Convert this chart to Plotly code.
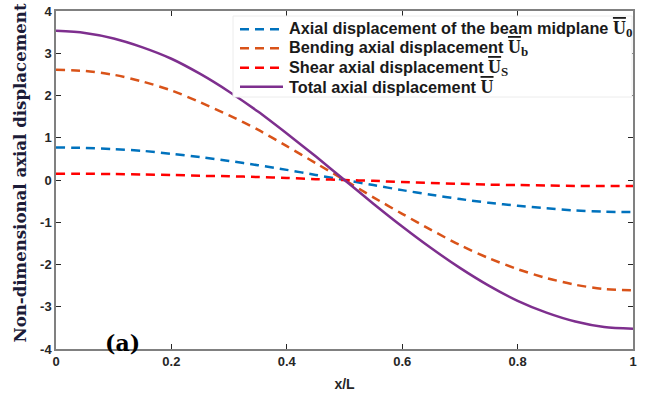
import plotly.graph_objects as go

x_vals = [0, 0.05, 0.1, 0.15, 0.2, 0.25, 0.3, 0.35, 0.4, 0.45, 0.5,
          0.55, 0.6, 0.65, 0.7, 0.75, 0.8, 0.85, 0.9, 0.95, 1.0]
u0_vals = [0.77, 0.76, 0.73, 0.69, 0.62, 0.54, 0.45, 0.35, 0.24, 0.12, 0.0,
           -0.12, -0.24, -0.35, -0.45, -0.54, -0.61, -0.67, -0.72, -0.75, -0.76]
ub_vals = [2.61, 2.58, 2.49, 2.33, 2.12, 1.84, 1.53, 1.19, 0.80, 0.40, 0.0,
           -0.41, -0.80, -1.18, -1.54, -1.85, -2.11, -2.32, -2.48, -2.58, -2.61]
us_vals = [0.15, 0.15, 0.14, 0.13, 0.12, 0.10, 0.09, 0.07, 0.05, 0.02, 0.0,
           -0.02, -0.05, -0.07, -0.09, -0.11, -0.12, -0.13, -0.14, -0.14, -0.14]
u_vals = [3.53, 3.48, 3.35, 3.14, 2.87, 2.51, 2.09, 1.62, 1.10, 0.56, 0.0,
          -0.56, -1.10, -1.61, -2.08, -2.50, -2.86, -3.14, -3.35, -3.48, -3.52]

x_ticks = [0, 0.2, 0.4, 0.6, 0.8, 1]
x_ticklabels = ["0", "0.2", "0.4", "0.6", "0.8", "1"]
y_ticks = [-4, -3, -2, -1, 0, 1, 2, 3, 4]
y_ticklabels = ["-4", "-3", "-2", "-1", "0", "1", "2", "3", "4"]

legend_texts = [
    "Axial displacement of the beam midplane",
    "Bending axial displacement",
    "Shear axial displacement",
    "Total axial displacement",
]
legend_subs = ["0", "b", "S", ""]
colors = ["#0072BD", "#D95319", "#FF0000", "#7E2F8E"]
dashes = ["9px,6px", "9px,6px", "9px,6px", "solid"]
series = [u0_vals, ub_vals, us_vals, u_vals]

fig = go.Figure()
for name, col, dsh, ys in zip(legend_texts, colors, dashes, series):
    fig.add_trace(go.Scatter(
        x=x_vals, y=ys, mode="lines", name=name, showlegend=False,
        line=dict(color=col, width=2.5, dash=dsh, shape="spline", smoothing=0.8),
    ))

axis_common = dict(
    showgrid=False, zeroline=False, showline=True, linecolor="#808080", linewidth=1.5,
    mirror="ticks", ticks="inside", ticklen=5, tickcolor="#262626", automargin=False,
    tickfont=dict(family="Liberation Sans", size=13, color="#262626", weight="bold"),
)
W, H = 647, 398
ML, MR, MT, MB = 56, 14, 11, 49
fig.update_layout(
    width=W, height=H,
    margin=dict(l=ML, r=MR, t=MT, b=MB),
    plot_bgcolor="white", paper_bgcolor="white",
    showlegend=False,
    xaxis=dict(range=[0, 1], tickvals=x_ticks, ticktext=x_ticklabels,
               title=dict(text="x/L", font=dict(family="Liberation Sans", size=14, color="#262626", weight="bold"), standoff=11),
               **axis_common),
    yaxis=dict(range=[-4, 4], tickvals=y_ticks, ticktext=y_ticklabels, **axis_common),
)

pw, ph = W - ML - MR, H - MT - MB
def px(xp):
    return (xp - ML) / pw
def py(yp):
    return 1 - (yp - MT) / ph

# y-axis title
fig.add_annotation(xref="paper", yref="paper", x=px(19.5), y=py(173), xanchor="center", yanchor="middle",
                   textangle=-90, showarrow=False, text="<b>Non-dimensional axial displacement</b>",
                   font=dict(family="DejaVu Serif", size=16.6, color="#1c1c38"))

# legend box
fig.add_shape(type="rect", xref="paper", yref="paper",
              x0=px(233), x1=px(632), y0=py(97), y1=py(16),
              fillcolor="white", line=dict(color="#ececec", width=1), layer="above")
row_y = [29.3, 48.3, 67.7, 86.7]
for txt, sub, col, dsh, ry in zip(legend_texts, legend_subs, colors, dashes, row_y):
    fig.add_shape(type="line", xref="paper", yref="paper",
                  x0=px(240), x1=px(283), y0=py(ry), y1=py(ry),
                  line=dict(color=col, width=2.5, dash=dsh), layer="above")
    sym = ('<span style="font-family:Liberation Serif;font-size:18px;font-weight:bold;'
           'text-decoration:overline">U</span>')
    if sub:
        sym += ('<sub><span style="font-family:Liberation Serif;font-size:13px;font-weight:bold">'
                f'{sub}</span></sub>')
    fig.add_annotation(
        xref="paper", yref="paper", x=px(287), y=py(ry), xanchor="left", yanchor="middle",
        showarrow=False,
        text=f'<b>{txt}</b> ' + sym,
        font=dict(family="Liberation Sans", size=16.3, color="#1a1a1a"),
    )

fig.add_annotation(x=0.081, y=-4, xref="x", yref="y", xanchor="left", yanchor="bottom",
                   yshift=-9, text="<b>(a)</b>", showarrow=False,
                   font=dict(family="DejaVu Serif", size=22, color="black"))
fig.write_html("out.html")
